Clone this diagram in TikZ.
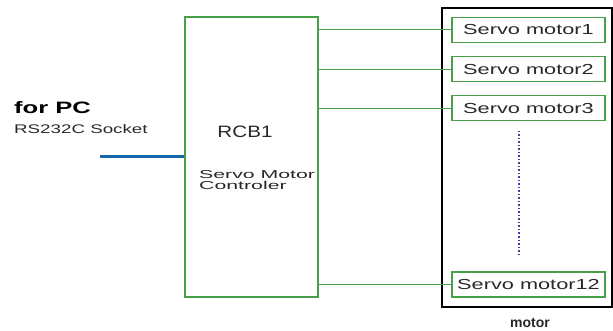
\documentclass[tikz,border=0pt]{standalone}
\usepackage{fontspec}
\setmainfont{Liberation Sans}
\newfontfamily\servofont{Liberation Sans}[FakeStretch=1.5]
\newfontfamily\rcbfont{Liberation Sans}[FakeStretch=1.25]
\newfontfamily\ctlfont{Liberation Sans}[FakeStretch=1.85]
\newfontfamily\pcfont{Liberation Sans}[FakeStretch=1.55]
\newfontfamily\sockfont{Liberation Sans}[FakeStretch=1.5]
\usepackage{xcolor}
\usetikzlibrary{positioning}

\definecolor{linegreen}{RGB}{72,160,72}
\definecolor{pcblue}{RGB}{22,104,170}
\definecolor{dotblue}{RGB}{60,60,185}
\definecolor{txtgray}{RGB}{40,40,40}

\begin{document}
\begin{tikzpicture}[x=1pt,y=-1pt,node distance=13pt,text=txtgray,
    servo/.style={draw=linegreen,line width=1.2pt,minimum width=153pt,
                  minimum height=25pt,inner sep=0pt,
                  font=\servofont\fontsize{14.5}{14.5}\selectfont},
    link/.style={draw=linegreen,line width=1pt}]
  \useasboundingbox (0,0) rectangle (613,331);

  % motor block
  \node[draw=black,line width=2pt,minimum width=170pt,minimum height=299pt,
        inner sep=0pt] (motor) at (527,157.5) {};
  \node[font=\bfseries\fontsize{14}{14}\selectfont] (motorlbl) at (530,323) {motor};

  \node[servo] (s1) at (528.5,30) {Servo motor1};
  \node[servo,below=of s1] (s2) {Servo motor2};
  \node[servo,below=of s2] (s3) {Servo motor3};
  \node[servo] (s12) at (528.5,284.5) {Servo motor12};
  \coordinate (dtop) at (519,131);
  \coordinate (dbot) at (519,257);
  \draw[dotblue,line width=1.5pt,dotted] (dtop) -- (dbot);

  % controller
  \node[draw=linegreen,line width=1.2pt,minimum width=133pt,minimum height=280pt,
        inner sep=0pt] (rcb) at (251.5,157) {};
  \node[font=\rcbfont\fontsize{16.5}{16.5}\selectfont] (rcbname) at (245,132) {RCB1};
  \node[anchor=west,align=left,inner sep=0pt,
        font=\ctlfont\fontsize{11.5}{11.5}\selectfont] (ctl) at (199,180)
        {Servo Motor\\Controler};

  \foreach \s in {s1,s2,s3,s12}
    \draw[link] (rcb.east |- \s.west) -- (\s.west);

  % PC side
  \node[anchor=west,inner sep=0pt,text=black,
        font=\pcfont\bfseries\fontsize{16.5}{16.5}\selectfont]
        (forpc) at (14,108) {for PC};
  \node[anchor=west,inner sep=0pt,font=\sockfont\fontsize{12.5}{12.5}\selectfont]
        (socket) at (14,129) {RS232C Socket};
  \coordinate (pc) at (100,157);
  \draw[pcblue,line width=3pt] (pc) -- (rcb.west |- pc);
\end{tikzpicture}
\end{document}
